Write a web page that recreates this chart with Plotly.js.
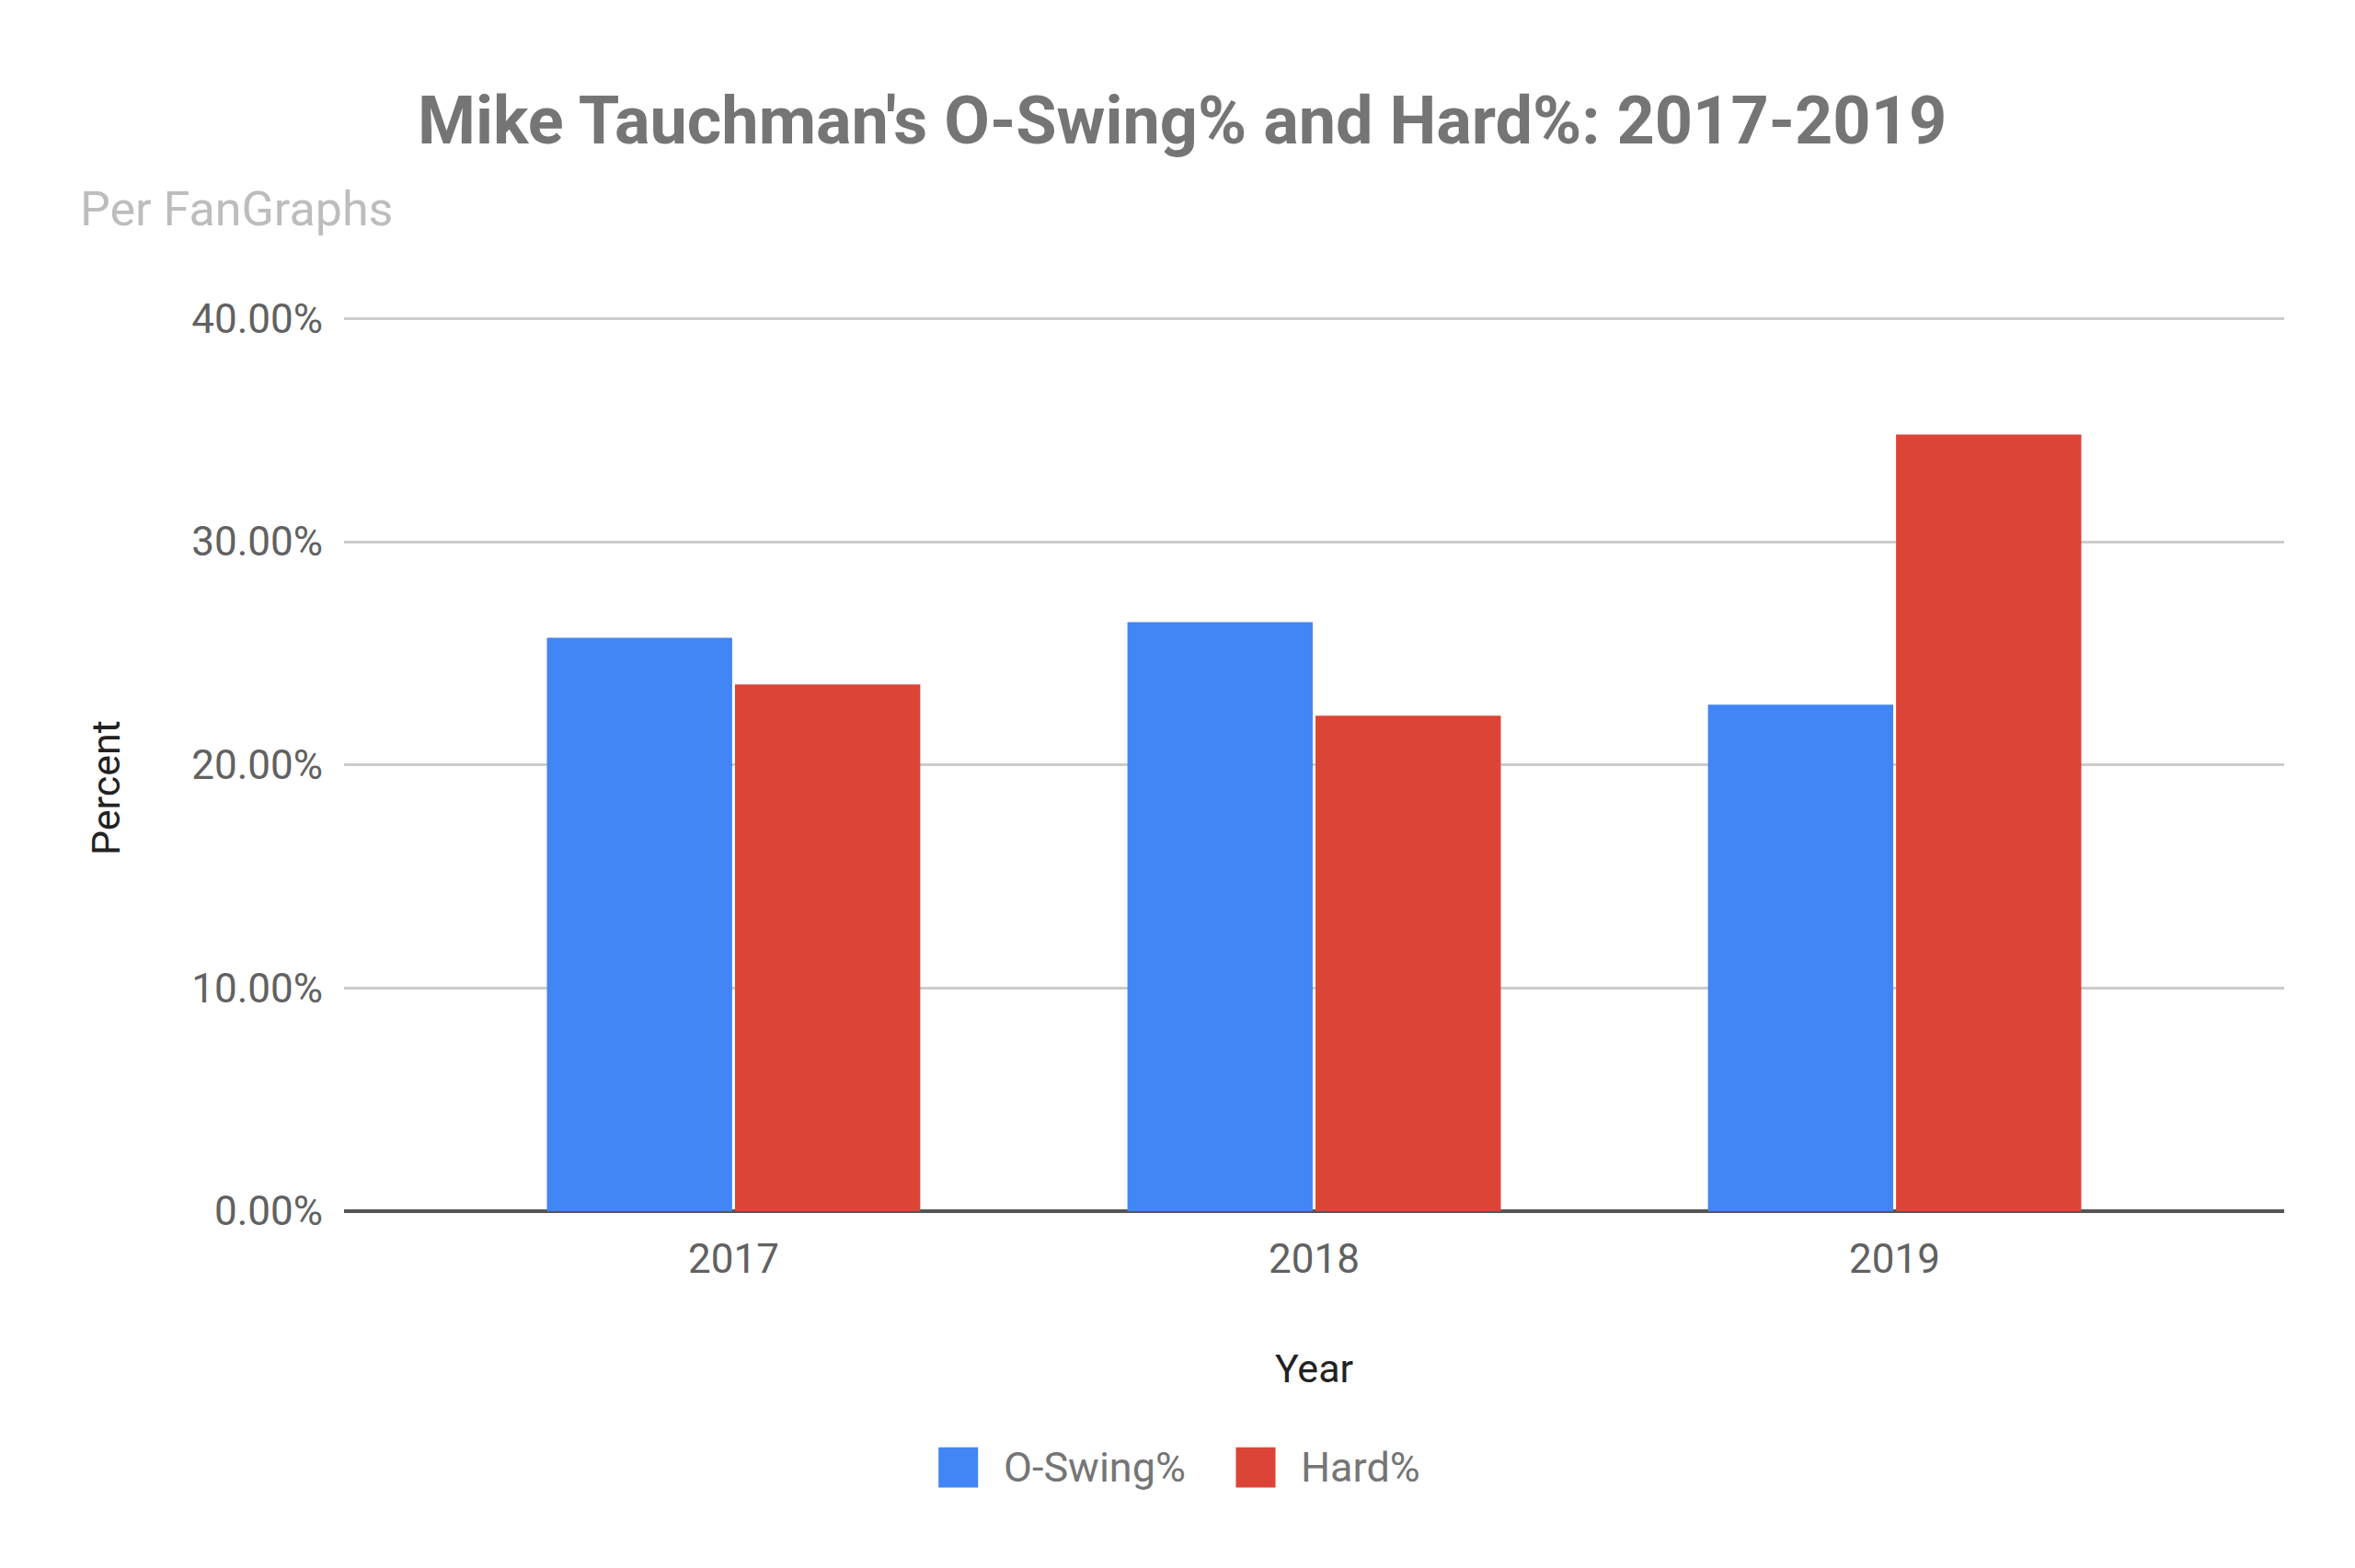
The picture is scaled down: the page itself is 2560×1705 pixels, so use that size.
<!DOCTYPE html>
<html>
<head>
<meta charset="utf-8">
<script src="https://cdn.plot.ly/plotly-3.0.1.min.js"></script>
<style>
  html, body { margin: 0; padding: 0; background: #fff; }
  #chart { width: 2560px; height: 1705px; }
</style>
</head>
<body>
<div id="chart"></div>
<script>
// values (percent)
var years = ['2017', '2018', '2019'];
var oSwing = [25.7, 26.4, 22.7];
var hardPct = [23.6, 22.2, 34.8];
var seriesNames = ['O-Swing%', 'Hard%'];
var seriesColors = ['#4285F4', '#DB4437'];
var yTicks = [0, 10, 20, 30, 40];

var font = 'Roboto, "Open Sans", Arial, sans-serif';
var seriesValues = [oSwing, hardPct];

var traces = seriesValues.map(function (vals, i) {
  return {
    type: 'bar',
    x: years,
    y: vals,
    name: seriesNames[i],
    marker: { color: seriesColors[i] },
    showlegend: false,
    hoverinfo: 'x+y+name'
  };
});

// hand made legend so the swatches can be as big as the original ones
var legendSwatchX = [0.3166, 0.4699];
var legendY = -0.2863;
var shapes = [];
var annotations = [{
  text: 'Per FanGraphs',
  xref: 'paper', yref: 'paper',
  x: -0.137, y: 1.1195,
  xanchor: 'left', yanchor: 'middle',
  showarrow: false,
  font: { family: font, size: 52, color: '#bdbdbd' }
}, {
  // y title sits a little below the plot middle in the original
  text: 'Percent',
  xref: 'paper', yref: 'paper',
  x: -0.1228, y: 0.4727,
  xanchor: 'center', yanchor: 'middle',
  textangle: -90,
  showarrow: false,
  font: { family: font, size: 43, color: '#222222' }
}];
seriesNames.forEach(function (name, i) {
  var cx = legendSwatchX[i];
  shapes.push({
    type: 'rect', xref: 'paper', yref: 'paper',
    x0: cx - 0.0102, x1: cx + 0.0102,
    y0: legendY - 0.0225, y1: legendY + 0.0225,
    fillcolor: seriesColors[i], line: { width: 0 }
  });
  annotations.push({
    text: name,
    xref: 'paper', yref: 'paper',
    x: cx + 0.0225, y: legendY,
    xanchor: 'left', yanchor: 'middle',
    showarrow: false,
    font: { family: font, size: 45, color: '#757575' }
  });
});

var layout = {
  width: 2560,
  height: 1705,
  paper_bgcolor: '#ffffff',
  plot_bgcolor: '#ffffff',
  font: { family: font, color: '#616161' },
  margin: { l: 374, r: 77, t: 344, b: 388 },
  title: {
    text: "<b>Mike Tauchman's O-Swing% and Hard%: 2017-2019</b>",
    x: 0.502, xanchor: 'center',
    y: 0.923, yanchor: 'middle',
    font: { family: font, size: 72, color: '#757575' }
  },
  barmode: 'group',
  bargap: 0.352,
  bargroupgap: 0.015,
  xaxis: {
    type: 'category',
    range: [-0.671, 2.671],
    showgrid: false,
    showline: false,
    zeroline: false,
    ticks: '',
    ticklabelstandoff: 22,
    tickfont: { family: font, size: 44, color: '#616161' },
    title: { text: 'Year', standoff: 78, font: { family: font, size: 43, color: '#222222' } }
  },
  yaxis: {
    range: [0, 40.1],
    tickvals: yTicks,
    ticktext: yTicks.map(function (v) { return v.toFixed(2) + '%'; }),
    showgrid: true,
    gridcolor: '#cccccc',
    gridwidth: 3,
    zeroline: true,
    zerolinecolor: '#555555',
    zerolinewidth: 4,
    showline: false,
    ticks: '',
    ticklabelstandoff: 22,
    tickfont: { family: font, size: 44, color: '#616161' }
  },
  shapes: shapes,
  annotations: annotations
};

Plotly.newPlot('chart', traces, layout, { displayModeBar: false, staticPlot: true });
</script>
</body>
</html>
